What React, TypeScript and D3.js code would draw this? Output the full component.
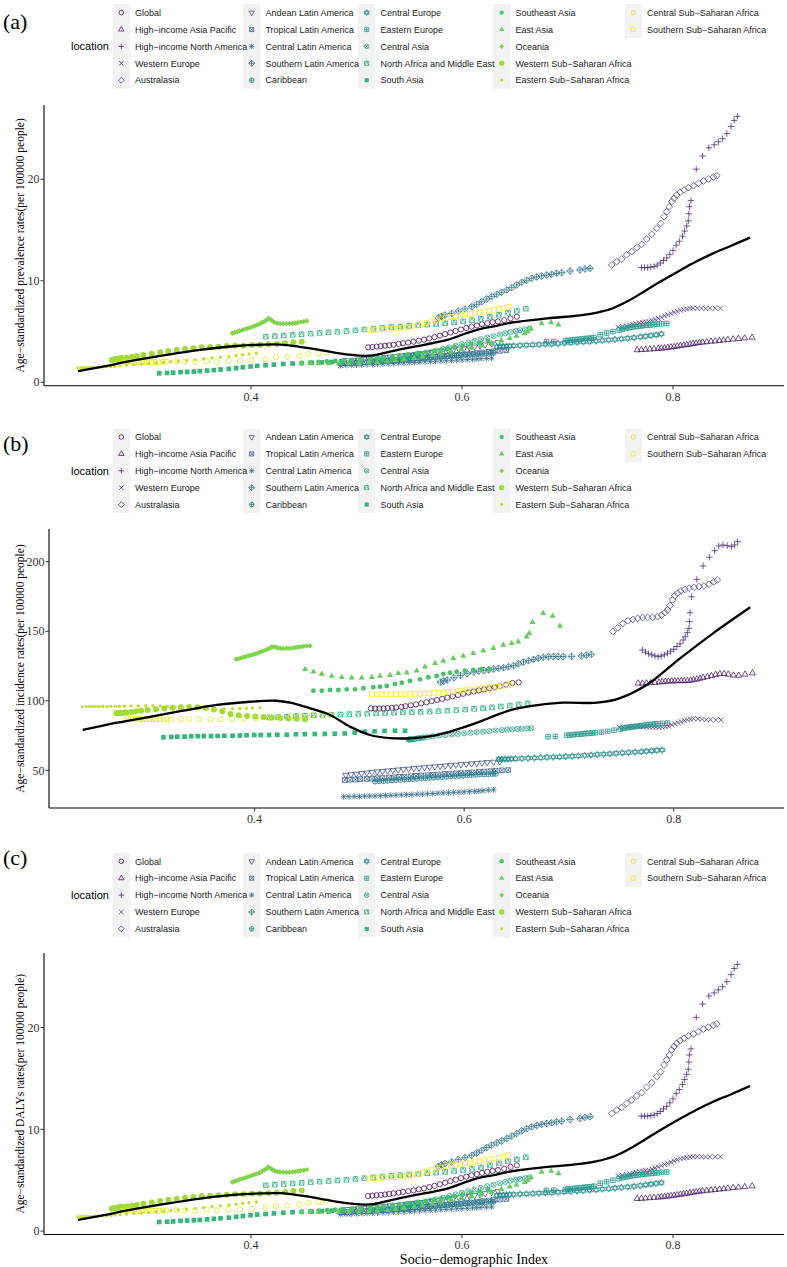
import React from 'react';
import * as d3 from 'd3';

// ---------- categories ----------
const locations = [
  'Global', 'High\u2212income Asia Pacific', 'High\u2212income North America', 'Western Europe', 'Australasia',
  'Andean Latin America', 'Tropical Latin America', 'Central Latin America', 'Southern Latin America', 'Caribbean',
  'Central Europe', 'Eastern Europe', 'Central Asia', 'North Africa and Middle East', 'South Asia',
  'Southeast Asia', 'East Asia', 'Oceania', 'Western Sub\u2212Saharan Africa', 'Eastern Sub\u2212Saharan Africa',
  'Central Sub\u2212Saharan Africa', 'Southern Sub\u2212Saharan Africa',
];

// ---------- tick labels ----------
const xTickValues = [0.4, 0.6, 0.8];
const yTicksPrev = [0, 10, 20];
const yTicksInc = [50, 100, 150, 200];

// ---------- series (SDI shared, prevalence, incidence) ----------
const sdiGlobal = [0.511,0.515,0.519,0.523,0.527,0.531,0.535,0.540,0.544,0.549,0.554,0.559,0.564,0.569,0.574,0.579,0.584,0.589,0.594,0.599,0.604,0.609,0.614,0.619,0.624,0.629,0.634,0.640,0.646,0.652];
const prevGlobal = [3.45,3.48,3.52,3.56,3.6,3.65,3.7,3.78,3.85,3.92,4.0,4.1,4.2,4.32,4.45,4.6,4.75,4.9,5.05,5.2,5.35,5.48,5.6,5.72,5.82,5.92,6.0,6.12,6.3,6.46];
const incGlobal = [94.5,94.4,94.4,94.5,94.7,94.9,95.2,95.6,96.1,96.7,97.4,98.1,98.9,99.7,100.5,101.4,102.3,103.2,104.1,105.0,105.9,106.7,107.5,108.2,108.9,109.6,110.4,111.5,112.8,113.2];

const sdiHiAP = [0.766,0.770,0.774,0.778,0.782,0.786,0.789,0.792,0.795,0.798,0.801,0.804,0.807,0.810,0.813,0.816,0.819,0.822,0.825,0.828,0.832,0.836,0.840,0.844,0.848,0.852,0.857,0.862,0.868,0.875];
const prevHiAP = [3.18,3.2,3.23,3.26,3.29,3.32,3.35,3.38,3.42,3.46,3.5,3.55,3.6,3.65,3.7,3.75,3.8,3.85,3.9,3.94,3.98,4.02,4.06,4.1,4.15,4.2,4.25,4.3,4.35,4.42];
const incHiAP = [112.6,112.5,112.7,112.8,113.0,113.3,113.6,113.8,114.0,114.1,114.2,114.2,114.3,114.3,114.4,114.6,115.0,115.5,116.0,116.6,117.3,118.0,118.8,119.3,119.4,119.0,118.3,118.2,119.0,119.8];

const sdiHiNA = [0.770,0.773,0.776,0.779,0.782,0.785,0.788,0.791,0.794,0.797,0.800,0.803,0.806,0.809,0.811,0.813,0.8145,0.815,0.8155,0.817,0.822,0.828,0.834,0.839,0.843,0.847,0.851,0.855,0.858,0.861];
const prevHiNA = [11.3,11.3,11.3,11.35,11.4,11.55,11.75,12.0,12.25,12.6,13.0,13.5,13.9,14.4,14.9,15.4,15.9,16.6,17.3,17.9,21.0,22.3,23.1,23.4,23.7,24.0,24.5,25.2,25.8,26.2];
const incHiNA = [136.5,135.0,133.8,133.0,132.3,131.7,132.2,133.0,134.1,135.6,137.0,139.0,141.0,143.7,146.0,149.0,152.1,156.9,163.3,174.8,187.3,196.9,203.2,207.9,211.3,212.0,211.5,210.8,212.0,214.4];

const sdiWE = [0.748,0.752,0.756,0.759,0.762,0.765,0.768,0.771,0.774,0.777,0.780,0.783,0.786,0.789,0.792,0.795,0.798,0.801,0.804,0.807,0.810,0.813,0.816,0.819,0.823,0.827,0.831,0.835,0.840,0.845];
const prevWE = [5.45,5.5,5.55,5.62,5.7,5.78,5.85,5.9,5.95,6.0,6.1,6.2,6.3,6.42,6.55,6.65,6.78,6.9,7.0,7.1,7.17,7.23,7.28,7.3,7.3,7.3,7.28,7.3,7.3,7.3];
const incWE = [80.9,81.0,81.1,81.2,81.3,81.4,81.4,81.3,81.2,81.1,81.0,80.9,80.9,81.0,81.3,81.8,82.6,83.5,84.3,85.0,85.7,86.3,86.8,87.1,87.0,86.6,86.3,86.4,86.2,86.2];

const sdiAus = [0.7419,0.7466,0.7514,0.7561,0.7609,0.7656,0.7703,0.775,0.7798,0.7845,0.7883,0.7915,0.794,0.7965,0.7988,0.801,0.8035,0.8067,0.8105,0.8146,0.8194,0.8241,0.8288,0.8336,0.8383,0.8415];
const prevAus = [11.56,11.89,12.15,12.55,12.87,13.27,13.6,14.12,14.58,15.17,15.66,16.32,16.81,17.3,17.8,18.13,18.45,18.72,18.95,19.18,19.37,19.6,19.83,20.03,20.22,20.35];
const incAus = [149.7,152.5,155.6,157.5,158.5,159.3,159.8,160.0,160.0,160.5,161.5,163.5,165.3,168.5,172.5,175.5,177.3,179.0,180.1,181.0,181.6,182.1,182.5,183.7,185.6,186.8];

const sdiAndean = [0.487,0.492,0.497,0.502,0.507,0.512,0.517,0.522,0.527,0.532,0.537,0.542,0.547,0.552,0.557,0.562,0.567,0.572,0.577,0.582,0.587,0.592,0.597,0.602,0.607,0.612,0.617,0.622,0.628,0.634];
const prevAndean = [2.1,2.14,2.18,2.22,2.26,2.3,2.35,2.4,2.45,2.5,2.55,2.6,2.66,2.72,2.78,2.84,2.9,2.96,3.02,3.08,3.15,3.22,3.29,3.36,3.43,3.5,3.6,3.7,3.8,3.92];
const incAndean = [46.5,47.0,47.4,47.8,48.2,48.6,49.0,49.3,49.7,50.0,50.4,50.7,51.0,51.4,51.7,52.0,52.4,52.7,53.0,53.3,53.6,53.9,54.2,54.5,54.8,55.1,55.4,55.7,56.0,56.3];

const sdiTropical = [0.486,0.491,0.496,0.501,0.507,0.512,0.517,0.522,0.528,0.533,0.538,0.543,0.549,0.554,0.559,0.565,0.570,0.575,0.581,0.586,0.592,0.597,0.603,0.608,0.614,0.619,0.625,0.630,0.636,0.642];
const prevTropical = [1.85,1.88,1.91,1.94,1.97,2.0,2.03,2.06,2.1,2.14,2.18,2.22,2.26,2.3,2.35,2.4,2.45,2.5,2.55,2.6,2.65,2.7,2.76,2.82,2.88,2.94,3.0,3.05,3.1,3.15];
const incTropical = [43.0,43.2,43.4,43.6,43.8,44.0,44.3,44.5,44.8,45.0,45.3,45.5,45.8,46.0,46.3,46.5,46.8,47.0,47.3,47.5,47.8,48.0,48.3,48.5,48.8,49.1,49.4,49.7,50.0,50.2];

const sdiCentralLA = [0.485,0.490,0.495,0.500,0.505,0.510,0.515,0.520,0.525,0.530,0.535,0.540,0.545,0.550,0.555,0.560,0.565,0.570,0.575,0.580,0.585,0.590,0.595,0.600,0.605,0.610,0.614,0.618,0.623,0.628];
const prevCentralLA = [1.65,1.67,1.69,1.71,1.73,1.75,1.77,1.79,1.81,1.84,1.86,1.89,1.91,1.94,1.96,1.99,2.02,2.04,2.07,2.1,2.13,2.16,2.19,2.21,2.24,2.27,2.3,2.33,2.35,2.38];
const incCentralLA = [31.0,31.1,31.2,31.3,31.4,31.5,31.6,31.8,31.9,32.0,32.2,32.3,32.5,32.6,32.8,32.9,33.1,33.3,33.5,33.7,33.9,34.1,34.3,34.5,34.7,34.9,35.1,35.4,35.7,36.0];

const sdiSouthernLA = [0.5775,0.5805,0.5839,0.5902,0.5965,0.6028,0.6092,0.6139,0.6187,0.6234,0.6281,0.6329,0.6376,0.6424,0.6471,0.6518,0.6566,0.6613,0.6661,0.6708,0.6755,0.6803,0.685,0.6897,0.6945,0.7024,0.7118,0.7166,0.7213];
const prevSouthernLA = [6.35,6.5,6.63,6.79,7.02,7.22,7.45,7.68,7.94,8.21,8.44,8.67,8.87,9.1,9.33,9.59,9.85,10.05,10.25,10.38,10.48,10.57,10.64,10.74,10.8,10.97,11.07,11.17,11.23];
const incSouthernLA = [113.5,114.2,114.9,116.5,118.2,119.6,120.6,121.3,121.8,122.3,122.8,123.3,123.8,124.5,125.3,126.5,127.8,128.8,129.8,130.7,131.3,131.7,131.8,131.8,131.8,131.9,132.2,132.8,133.4];

const sdiCaribbean = [0.515,0.519,0.523,0.527,0.531,0.535,0.539,0.543,0.547,0.551,0.555,0.559,0.563,0.567,0.571,0.575,0.579,0.583,0.587,0.591,0.595,0.599,0.603,0.607,0.611,0.615,0.619,0.623,0.627,0.630];
const prevCaribbean = [2.1,2.12,2.14,2.16,2.18,2.2,2.22,2.25,2.28,2.31,2.34,2.37,2.4,2.43,2.46,2.49,2.52,2.55,2.58,2.61,2.64,2.67,2.7,2.73,2.76,2.79,2.82,2.85,2.88,2.9];
const incCaribbean = [42.0,42.2,42.4,42.6,42.8,43.0,43.2,43.4,43.6,43.8,44.0,44.2,44.4,44.6,44.8,45.0,45.2,45.4,45.6,45.8,46.0,46.2,46.4,46.6,46.8,47.0,47.1,47.2,47.4,47.5];

const sdiCentralEurope = [0.633,0.636,0.639,0.642,0.645,0.649,0.655,0.661,0.667,0.673,0.679,0.685,0.691,0.697,0.703,0.709,0.715,0.721,0.727,0.733,0.739,0.745,0.751,0.757,0.763,0.769,0.774,0.779,0.784,0.789];
const prevCentralEurope = [3.5,3.52,3.54,3.56,3.58,3.6,3.63,3.66,3.69,3.72,3.75,3.78,3.82,3.86,3.9,3.94,3.98,4.02,4.07,4.12,4.17,4.22,4.28,4.34,4.4,4.47,4.54,4.61,4.68,4.76];
const incCentralEurope = [57.9,58.0,58.0,58.1,58.2,58.3,58.5,58.7,58.9,59.1,59.3,59.5,59.7,59.9,60.1,60.4,60.7,61.0,61.3,61.6,61.9,62.2,62.5,62.8,63.1,63.4,63.7,64.0,64.3,64.6];

const sdiEasternEurope = [0.680,0.687,0.698,0.701,0.704,0.707,0.710,0.713,0.716,0.719,0.722,0.725,0.731,0.737,0.743,0.749,0.752,0.755,0.758,0.761,0.764,0.767,0.770,0.773,0.776,0.779,0.782,0.785,0.789,0.794];
const prevEasternEurope = [4.0,4.02,4.1,4.13,4.16,4.2,4.23,4.26,4.3,4.33,4.36,4.4,4.7,4.85,5.0,5.15,5.25,5.32,5.38,5.43,5.48,5.52,5.56,5.6,5.63,5.66,5.7,5.73,5.76,5.8];
const incEasternEurope = [74.2,74.3,75.2,75.4,75.6,75.8,76.0,76.2,76.4,76.6,76.8,77.0,77.4,78.0,78.8,79.7,80.2,80.6,81.0,81.3,81.6,81.9,82.2,82.5,82.8,83.0,83.3,83.5,83.7,83.9];

const sdiCentralAsia = [0.561,0.557,0.553,0.550,0.548,0.547,0.548,0.550,0.553,0.556,0.560,0.565,0.570,0.576,0.582,0.588,0.594,0.600,0.606,0.612,0.618,0.624,0.630,0.636,0.641,0.646,0.651,0.655,0.660,0.664];
const prevCentralAsia = [2.7,2.65,2.6,2.58,2.56,2.55,2.56,2.58,2.62,2.68,2.76,2.86,2.98,3.12,3.28,3.44,3.6,3.76,3.92,4.08,4.24,4.4,4.55,4.7,4.83,4.95,5.05,5.13,5.2,5.28];
const incCentralAsia = [73.5,73.0,72.6,72.3,72.2,72.1,72.2,72.4,72.7,73.0,73.5,74.0,74.6,75.0,75.4,75.8,76.2,76.6,77.0,77.4,77.8,78.2,78.6,78.9,79.2,79.5,79.7,79.9,80.1,80.3];

const sdiNAME = [0.414,0.4225,0.431,0.4395,0.448,0.4565,0.465,0.4735,0.482,0.4905,0.499,0.5075,0.516,0.5245,0.533,0.5415,0.55,0.5585,0.567,0.5755,0.584,0.5925,0.601,0.6095,0.618,0.6265,0.635,0.6435,0.652,0.6605];
const prevNAME = [4.5,4.56,4.62,4.68,4.74,4.8,4.86,4.92,4.98,5.05,5.12,5.2,5.28,5.36,5.44,5.5,5.56,5.62,5.68,5.75,5.82,5.9,6.0,6.12,6.25,6.45,6.65,6.85,7.05,7.25];
const incNAME = [88.0,88.3,88.6,88.9,89.2,89.5,89.8,90.0,90.2,90.4,90.6,90.8,91.0,91.2,91.4,91.6,91.8,92.0,92.3,92.6,92.9,93.3,93.7,94.2,94.7,95.3,95.9,96.6,97.4,98.2];

const sdiSouthAsia = [0.313,0.3205,0.3262,0.3332,0.3395,0.3458,0.3515,0.3584,0.3648,0.3711,0.379,0.386,0.3923,0.3996,0.4059,0.4138,0.4217,0.4306,0.4394,0.448,0.4575,0.467,0.4765,0.486,0.4955,0.505,0.5145,0.524,0.534,0.5435];
const prevSouthAsia = [0.89,0.92,0.95,1.0,1.03,1.06,1.1,1.15,1.2,1.26,1.32,1.4,1.48,1.56,1.62,1.68,1.74,1.8,1.85,1.88,1.92,1.96,2.0,2.04,2.08,2.12,2.16,2.2,2.25,2.3];
const incSouthAsia = [73.7,74.0,74.2,74.2,74.5,74.6,74.6,74.6,74.7,74.8,74.8,75.0,75.2,75.4,75.4,75.4,75.5,75.6,75.9,76.0,76.1,76.2,76.3,76.5,77.0,77.8,78.0,78.3,78.5,78.4];

const sdiSoutheastAsia = [0.4561,0.4641,0.472,0.4799,0.4879,0.4958,0.5038,0.5133,0.5197,0.5261,0.534,0.5404,0.5483,0.5578,0.5658,0.5737,0.5801,0.5864,0.5928,0.6007,0.6086,0.6167,0.6246];
const prevSoutheastAsia = [1.95,2.0,2.05,2.1,2.15,2.2,2.26,2.34,2.4,2.47,2.56,2.64,2.74,2.86,2.97,3.08,3.18,3.3,3.42,3.58,3.74,3.9,4.08];
const incSoutheastAsia = [107.2,107.2,107.7,107.7,108.2,108.2,109.0,109.7,110.1,110.6,112.0,113.0,114.2,115.4,116.9,117.8,119.2,120.2,120.9,121.6,122.1,122.6,122.6];

const sdiEastAsia = [0.4482,0.4561,0.4641,0.4736,0.4832,0.4927,0.5022,0.5118,0.5197,0.5292,0.5371,0.5452,0.5547,0.5626,0.5722,0.5801,0.5896,0.5991,0.6087,0.6182,0.6278,0.6373,0.6453,0.6516,0.6596,0.6621,0.6653,0.6754,0.6844,0.6914];
const prevEastAsia = [1.9,1.88,1.86,1.85,1.85,1.86,1.88,1.92,1.98,2.05,2.15,2.25,2.38,2.52,2.68,2.85,3.02,3.2,3.4,3.6,3.85,4.1,4.35,4.55,4.8,5.0,5.3,5.8,5.9,5.67];
const incEastAsia = [122.6,120.9,119.2,117.8,116.9,116.6,116.6,116.9,117.8,118.3,119.7,120.2,121.6,124.5,126.9,128.6,130.5,132.2,134.1,136.0,137.7,140.1,141.3,142.5,146.1,148.5,156.4,162.9,160.9,153.8];

const sdiOceania = [0.3823,0.3846,0.387,0.3893,0.3917,0.394,0.3964,0.3987,0.401,0.4033,0.4056,0.408,0.4103,0.4126,0.415,0.4164,0.4185,0.4205,0.4225,0.425,0.4275,0.4305,0.4335,0.4365,0.4395,0.442,0.4445,0.447,0.45,0.4528];
const prevOceania = [4.83,4.9,4.98,5.06,5.14,5.22,5.3,5.38,5.46,5.55,5.64,5.74,5.86,6.0,6.15,6.3,6.18,6.02,5.9,5.82,5.8,5.78,5.78,5.79,5.8,5.84,5.88,5.93,5.98,6.04];
const incOceania = [129.8,130.3,130.8,131.3,131.8,132.3,132.8,133.3,133.8,134.4,135.0,135.7,136.4,137.2,138.0,138.8,138.9,138.4,137.9,137.7,137.6,137.7,137.8,138.0,138.3,138.6,138.9,139.2,139.4,139.6];

const sdiWSSA = [0.268,0.2696,0.2712,0.2728,0.2744,0.2759,0.2775,0.2822,0.287,0.2917,0.298,0.3059,0.3138,0.3217,0.3296,0.3375,0.3454,0.3533,0.3612,0.3691,0.377,0.3849,0.3928,0.4007,0.4086,0.4165,0.4244,0.4323,0.4402,0.4481];
const prevWSSA = [2.2,2.24,2.27,2.29,2.33,2.36,2.39,2.42,2.49,2.56,2.69,2.82,2.95,3.09,3.18,3.28,3.35,3.45,3.48,3.51,3.58,3.61,3.61,3.68,3.68,3.74,3.77,3.84,3.94,4.0];
const incWSSA = [91.0,91.1,91.2,91.3,91.4,91.5,91.6,92.0,92.4,92.8,93.3,93.9,94.5,95.0,95.4,95.5,95.3,94.8,93.8,92.5,90.5,89.6,89.0,88.6,88.3,88.0,87.6,87.3,87.0,86.7];

const sdiESSA = [0.236,0.2395,0.2425,0.2455,0.2485,0.2515,0.255,0.259,0.263,0.267,0.271,0.276,0.282,0.289,0.296,0.303,0.31,0.317,0.324,0.331,0.339,0.347,0.355,0.363,0.371,0.379,0.386,0.392,0.398,0.405];
const prevESSA = [1.42,1.43,1.44,1.44,1.45,1.46,1.48,1.5,1.52,1.55,1.58,1.62,1.67,1.72,1.78,1.84,1.9,1.96,2.02,2.08,2.15,2.23,2.32,2.4,2.48,2.56,2.64,2.72,2.79,2.86];
const incESSA = [95.8,95.8,95.8,95.8,95.8,95.8,95.9,95.9,96.0,96.0,96.1,96.1,96.2,96.3,96.4,96.4,96.3,96.0,95.6,95.0,94.5,94.2,94.0,94.0,94.1,94.2,94.4,94.6,94.8,95.1];

const sdiCSSA = [0.279,0.2815,0.284,0.2865,0.289,0.2915,0.294,0.297,0.3,0.303,0.306,0.3095,0.313,0.3165,0.32,0.3296,0.3375,0.347,0.358,0.3675,0.3786,0.3896,0.4007,0.4133,0.4237,0.4345,0.4459,0.4544,0.4639,0.4712];
const prevCSSA = [2.03,2.03,2.02,2.02,2.02,2.01,2.01,2.0,2.0,2.0,2.0,2.0,2.0,2.01,2.03,2.03,2.03,2.03,2.1,2.03,2.13,2.13,2.2,2.26,2.46,2.52,2.59,2.78,2.85,2.95];
const incCSSA = [87.4,87.3,87.2,87.1,87.0,86.9,86.8,86.8,86.7,86.7,86.7,86.7,86.7,86.7,86.7,86.7,86.7,86.7,86.7,86.7,86.8,87.0,87.3,87.8,88.3,88.8,89.3,89.6,89.8,90.0];

const sdiSSSA = [0.512,0.5166,0.5211,0.5257,0.5302,0.5348,0.5393,0.5439,0.5484,0.553,0.5575,0.5621,0.5666,0.5712,0.5757,0.5803,0.5848,0.5894,0.5939,0.5985,0.603,0.6076,0.6121,0.6167,0.6212,0.6258,0.6303,0.6349,0.6394,0.644];
const prevSSSA = [5.15,5.18,5.21,5.24,5.27,5.3,5.34,5.38,5.43,5.5,5.6,5.72,5.86,6.0,6.14,6.26,6.36,6.45,6.53,6.6,6.67,6.74,6.81,6.88,6.96,7.04,7.13,7.22,7.33,7.45];
const incSSSA = [104.6,104.6,104.6,104.6,104.7,104.7,104.8,104.8,104.9,105.0,105.1,105.2,105.4,105.6,105.8,106.1,106.4,106.7,107.0,107.4,107.8,108.2,108.6,109.0,109.4,109.8,110.2,110.6,111.0,111.3];

// ---------- smooth (fitted) curves ----------
const smoothSdiPrev = [0.236,0.257,0.289,0.320,0.352,0.383,0.409,0.428,0.446,0.465,0.484,0.503,0.516,0.535,0.554,0.586,0.604,0.617,0.630,0.648,0.681,0.712,0.727,0.743,0.759,0.775,0.791,0.807,0.822,0.838,0.854,0.873];
const smoothPrev = [1.1,1.5,2.15,2.7,3.2,3.55,3.7,3.72,3.5,3.2,2.85,2.62,2.65,3.1,3.5,4.17,4.83,5.25,5.5,5.9,6.3,6.6,6.85,7.3,8.1,9.1,10.1,11.05,11.9,12.7,13.4,14.25];
const smoothSdiInc = [0.236,0.2686,0.300,0.332,0.364,0.3957,0.421,0.434,0.453,0.472,0.491,0.510,0.529,0.548,0.570,0.585,0.600,0.615,0.630,0.645,0.663,0.694,0.727,0.748,0.774,0.806,0.8375,0.873];
const smoothInc = [79.0,84.2,88.5,92.9,97.0,99.3,100.0,98.6,94.6,89.8,81.4,75.4,73.2,73.0,74.7,77.5,81.0,85.0,89.5,93.5,96.2,98.6,98.6,101.7,111.3,130.5,148.5,167.2];

// ---------- table built from the arrays ----------
const sdiList = [sdiGlobal, sdiHiAP, sdiHiNA, sdiWE, sdiAus, sdiAndean, sdiTropical, sdiCentralLA, sdiSouthernLA, sdiCaribbean,
  sdiCentralEurope, sdiEasternEurope, sdiCentralAsia, sdiNAME, sdiSouthAsia, sdiSoutheastAsia, sdiEastAsia, sdiOceania,
  sdiWSSA, sdiESSA, sdiCSSA, sdiSSSA];
const prevList = [prevGlobal, prevHiAP, prevHiNA, prevWE, prevAus, prevAndean, prevTropical, prevCentralLA, prevSouthernLA, prevCaribbean,
  prevCentralEurope, prevEasternEurope, prevCentralAsia, prevNAME, prevSouthAsia, prevSoutheastAsia, prevEastAsia, prevOceania,
  prevWSSA, prevESSA, prevCSSA, prevSSSA];
const incList = [incGlobal, incHiAP, incHiNA, incWE, incAus, incAndean, incTropical, incCentralLA, incSouthernLA, incCaribbean,
  incCentralEurope, incEasternEurope, incCentralAsia, incNAME, incSouthAsia, incSoutheastAsia, incEastAsia, incOceania,
  incWSSA, incESSA, incCSSA, incSSSA];
// the DALYs panel shows the same rates as the prevalence panel
const dalysList = prevList;

const regions = locations.map((name, i) => ({
  name,
  shape: i + 1,
  sdi: sdiList[i],
  prev: prevList[i],
  inc: incList[i],
  dalys: dalysList[i],
}));

const colorOf = (i: number) => d3.interpolateViridis(i / (locations.length - 1));

// ---------- marker shapes (R pch 1..22) ----------
function markerPath(shape: number, x: number, y: number, h: number): { d: string; filled: boolean } {
  const c = (r: number) => `M${x - r},${y}a${r},${r} 0 1,0 ${2 * r},0a${r},${r} 0 1,0 ${-2 * r},0Z`;
  const sq = (s: number) => `M${x - s},${y - s}H${x + s}V${y + s}H${x - s}Z`;
  const triUp = (R: number) => `M${x},${y - R}L${x + R * 0.866},${y + R * 0.5}L${x - R * 0.866},${y + R * 0.5}Z`;
  const triDown = (R: number) => `M${x},${y + R}L${x + R * 0.866},${y - R * 0.5}L${x - R * 0.866},${y - R * 0.5}Z`;
  const plus = (L: number) => `M${x - L},${y}H${x + L}M${x},${y - L}V${y + L}`;
  const cross = (L: number) => `M${x - L},${y - L}L${x + L},${y + L}M${x - L},${y + L}L${x + L},${y - L}`;
  const diamond = (L: number) => `M${x},${y - L}L${x + L},${y}L${x},${y + L}L${x - L},${y}Z`;
  switch (shape) {
    case 1: return { d: c(h), filled: false };
    case 2: return { d: triUp(h * 1.35), filled: false };
    case 3: return { d: plus(h * 1.25), filled: false };
    case 4: return { d: cross(h * 0.95), filled: false };
    case 5: return { d: diamond(h * 1.3), filled: false };
    case 6: return { d: triDown(h * 1.35), filled: false };
    case 7: return { d: sq(h * 0.9) + cross(h * 0.9), filled: false };
    case 8: return { d: plus(h * 1.2) + cross(h * 0.9), filled: false };
    case 9: return { d: diamond(h * 1.3) + plus(h * 1.3), filled: false };
    case 10: return { d: c(h) + plus(h), filled: false };
    case 11: return { d: triUp(h * 1.3) + triDown(h * 1.3), filled: false };
    case 12: return { d: sq(h * 0.9) + plus(h * 0.9), filled: false };
    case 13: return { d: c(h) + cross(h * 0.707), filled: false };
    case 14: {
      const s = h * 0.9;
      return { d: sq(s) + `M${x - s},${y + s}L${x},${y - s}L${x + s},${y + s}`, filled: false };
    }
    case 15: return { d: sq(h * 0.9), filled: true };
    case 16: return { d: c(h * 0.95), filled: true };
    case 17: return { d: triUp(h * 1.35), filled: true };
    case 18: return { d: diamond(h * 1.05), filled: true };
    case 19: return { d: c(h * 1.15), filled: true };
    case 20: return { d: c(h * 0.65), filled: true };
    case 21: return { d: c(h), filled: false };
    default: return { d: sq(h * 0.9), filled: false };
  }
}

function Marker({ shape, x, y, color, h }: { shape: number; x: number; y: number; color: string; h: number }) {
  const m = markerPath(shape, x, y, h);
  return m.filled
    ? <path d={m.d} fill={color} stroke="none" />
    : <path d={m.d} fill="none" stroke={color} strokeWidth={0.75} />;
}

// ---------- panel definitions ----------
const serif = "'Liberation Serif', 'Times New Roman', serif";
const sans = "'Liberation Sans', Arial, sans-serif";
const xDomain = [0.2038, 0.9052];

const panels = [
  {
    tag: '(a)', tagY: 29, legendY: 12.6,
    yTitle: 'Age\u2212standardized prevalence rates(per 100000 people)',
    key: 'prev' as const, xRange: [44, 784], yDomain: [-0.335, 27.32], yRange: [385.7, 105],
    yTicks: yTicksPrev, smoothX: smoothSdiPrev, smoothY: smoothPrev, showXTitle: false,
  },
  {
    tag: '(b)', tagY: 451, legendY: 437,
    yTitle: 'Age\u2212standardized incidence rates(per 100000 people)',
    key: 'inc' as const, xRange: [49, 784], yDomain: [22.9, 223.5], yRange: [808, 529],
    yTicks: yTicksInc, smoothX: smoothSdiInc, smoothY: smoothInc, showXTitle: false,
  },
  {
    tag: '(c)', tagY: 865, legendY: 861.3,
    yTitle: 'Age\u2212standardized DALYs rates(per 100000 people)',
    key: 'dalys' as const, xRange: [44, 784], yDomain: [-0.335, 27.32], yRange: [1234.5, 953],
    yTicks: yTicksPrev, smoothX: smoothSdiPrev, smoothY: smoothPrev, showXTitle: true,
  },
];

const legendColX = [121.3, 251.7, 366.7, 501.7, 633.3];
const rowGap = 16.9;

function Legend({ top }: { top: number }) {
  const items = locations.map((name, i) => ({ name, i, col: Math.floor(i / 5), row: i % 5 }));
  const cols = d3.range(5);
  return (
    <g>
      <text x={71} y={top + 2 * rowGap + 4} fontFamily={sans} fontSize={11} fill="#000">location</text>
      {cols.map(ci => {
        const n = items.filter(it => it.col === ci).length;
        return (
          <rect key={ci} x={legendColX[ci] - 8.6} y={top - 8.45} width={17.2} height={n * rowGap}
            fill="#F2F2F2" />
        );
      })}
      {items.map(it => {
        const cx = legendColX[it.col];
        const cy = top + it.row * rowGap;
        return (
          <g key={it.name}>
            <Marker shape={it.i + 1} x={cx} y={cy} color={colorOf(it.i)} h={2.3} />
            <text x={cx + 13.7} y={cy + 3.2} fontFamily={sans} fontSize={9} fill="#1a1a1a">{it.name}</text>
          </g>
        );
      })}
    </g>
  );
}

function Panel({ p }: { p: typeof panels[number] }) {
  const x = d3.scaleLinear().domain(xDomain).range(p.xRange);
  const y = d3.scaleLinear().domain(p.yDomain).range(p.yRange);
  const smoothPts: [number, number][] = p.smoothX.map((v, i) => [v, p.smoothY[i]]);
  const line = d3.line<[number, number]>()
    .x(d => x(d[0]))
    .y(d => y(d[1]))
    .curve(d3.curveCatmullRom.alpha(0.5));
  const x0 = p.xRange[0];
  const x1 = p.xRange[1];
  const yb = p.yRange[0];
  const yt = p.yRange[1];
  const midY = (yb + yt) / 2;
  return (
    <g>
      <text x={3} y={p.tagY} fontFamily={serif} fontSize={22} fill="#000">{p.tag}</text>
      <Legend top={p.legendY} />
      {regions.map((r, ri) => (
        <g key={r.name}>
          {r.sdi.map((s, k) => (
            <Marker key={k} shape={r.shape} x={x(s)} y={y(r[p.key][k])} color={colorOf(ri)} h={2.6} />
          ))}
        </g>
      ))}
      <path d={line(smoothPts) || ''} fill="none" stroke="#000" strokeWidth={2.3} />
      <line x1={x0} x2={x1} y1={yb} y2={yb} stroke="#000" strokeWidth={1.1} />
      <line x1={x0} x2={x0} y1={yt} y2={yb} stroke="#000" strokeWidth={1.1} />
      {xTickValues.map(t => (
        <g key={t}>
          <line x1={x(t)} x2={x(t)} y1={yb} y2={yb + 3.6} stroke="#333" strokeWidth={1} />
          <text x={x(t)} y={yb + 14.8} textAnchor="middle" fontFamily={serif} fontSize={12} fill="#333">{t.toFixed(1)}</text>
        </g>
      ))}
      {p.yTicks.map(t => (
        <g key={t}>
          <line x1={x0 - 3.6} x2={x0} y1={y(t)} y2={y(t)} stroke="#333" strokeWidth={1} />
          <text x={x0 - 4.5} y={y(t) + 4.2} textAnchor="end" fontFamily={serif} fontSize={12} fill="#333">{t}</text>
        </g>
      ))}
      <text transform={`translate(24,${midY}) rotate(-90)`} textAnchor="middle" fontFamily={serif} fontSize={11.5} fill="#000">
        {p.yTitle}
      </text>
      {p.showXTitle && (
        <text x={474} y={1263.5} textAnchor="middle" fontFamily={serif} fontSize={14} fill="#000">Socio{'\u2212'}demographic Index</text>
      )}
    </g>
  );
}

export default function App() {
  return (
    <svg width={787} height={1267} viewBox="0 0 787 1267"
      style={{ position: 'absolute', left: 0, top: 0, background: '#fff', display: 'block' }}>
      <rect x={0} y={0} width={787} height={1267} fill="#fff" />
      {panels.map(p => <Panel key={p.tag} p={p} />)}
    </svg>
  );
}
